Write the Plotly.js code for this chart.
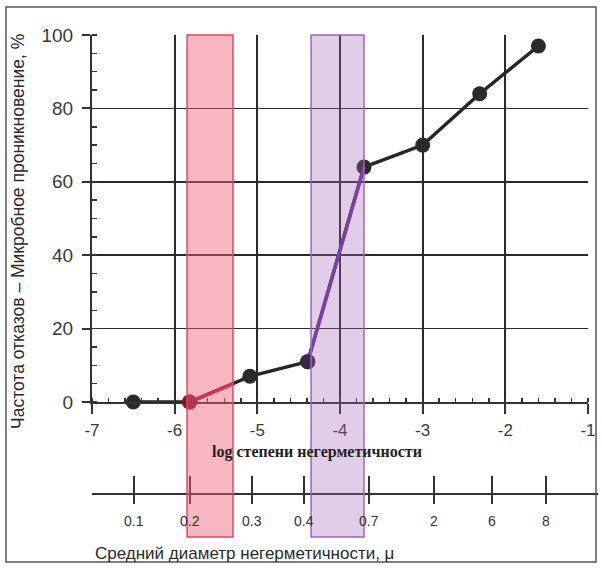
<!DOCTYPE html>
<html>
<head>
<meta charset="utf-8">
<script src="https://cdn.plot.ly/plotly-3.0.1.min.js"></script>
<style>html,body{margin:0;padding:0;background:#fff;}#chart{width:602px;height:568px;}</style>
</head>
<body>
<div id="chart"></div>
<script>
// ---- data ----
var logLeak = [-6.5, -5.82, -5.09, -4.39, -3.71, -3.0, -2.31, -1.6];
var failRate = [0, 0, 7, 11, 64, 70, 84, 97];
var xTickVals = [-7, -6, -5, -4, -3, -2, -1];
var xTickText = ['-7', '-6', '-5', '-4', '-3', '-2', '-1'];
var yTickVals = [0, 20, 40, 60, 80, 100];
var diamTickPos = [-6.49, -5.82, -5.06, -4.43, -3.65, -2.86, -2.16, -1.51];
var diamLabels = ['0.1', '0.2', '0.3', '0.4', '0.7', '2', '6', '8'];
var redBand = [-5.85, -5.295];
var purpleBand = [-4.35, -3.71];
var yTitle = 'Частота отказов – Микробное проникновение, %';
var xTitle = 'log степени негерметичности';
var x2Title = 'Средний диаметр негерметичности, μ';

// red segment: from point 2 to the right edge of red band (interpolated on the data line)
var t = (redBand[1] - logLeak[1]) / (logLeak[2] - logLeak[1]);
var redSegX = [logLeak[1], redBand[1]];
var redSegY = [failRate[1], failRate[1] + t * (failRate[2] - failRate[1])];

var font = 'Liberation Sans, Arial, sans-serif';
var traces = [
  {x: logLeak, y: failRate, mode: 'lines+markers', xaxis: 'x', yaxis: 'y',
   line: {color: '#262626', width: 3.5}, marker: {size: 15, color: '#2a2a2a'}, cliponaxis: false, hoverinfo: 'skip'},
  {x: redSegX, y: redSegY, mode: 'lines', line: {color: '#b3142b', width: 3.5}, cliponaxis: false, hoverinfo: 'skip'},
  {x: logLeak.slice(3, 5), y: failRate.slice(3, 5), mode: 'lines', line: {color: '#6a2fa0', width: 3.5}, cliponaxis: false, hoverinfo: 'skip'},
  {x: [logLeak[1]], y: [failRate[1]], mode: 'markers', marker: {size: 15, color: '#9a0f20'}, cliponaxis: false, hoverinfo: 'skip'},
  {x: [logLeak[3]], y: [failRate[3]], mode: 'markers', marker: {size: 15, color: '#3a2848'}, cliponaxis: false, hoverinfo: 'skip'},
  {x: diamTickPos, y: diamTickPos.map(function(){return null;}), xaxis: 'x2', yaxis: 'y', mode: 'markers', hoverinfo: 'skip', showlegend: false}
];

var annotations = [
  {text: '<b>' + xTitle + '</b>', xref: 'paper', yref: 'paper', x: (317 - 92) / 496, y: (537 - 452) / 502,
   showarrow: false, xanchor: 'center', yanchor: 'middle', font: {family: 'Liberation Serif, Times New Roman, serif', size: 16, color: '#222'}},
  {text: x2Title, xref: 'paper', yref: 'paper', x: (93 - 92) / 496, y: (537 - 553) / 502,
   showarrow: false, xanchor: 'left', yanchor: 'middle', font: {family: font, size: 17, color: '#2a2a2a'}},
  {text: yTitle, xref: 'paper', yref: 'paper', x: (18 - 92) / 496, y: (537 - 232) / 502, textangle: -90,
   showarrow: false, xanchor: 'center', yanchor: 'middle', font: {family: font, size: 17.5, color: '#2a2a2a'}}
];
diamLabels.forEach(function (lab, i) {
  annotations.push({text: lab, xref: 'x', yref: 'paper', x: diamTickPos[i], y: (537 - 521) / 502,
    showarrow: false, xanchor: 'center', yanchor: 'middle', font: {family: font, size: 14, color: '#333'}});
});

var layout = {
  width: 602, height: 568,
  margin: {l: 92, r: 14, t: 35, b: 31},
  paper_bgcolor: '#fff', plot_bgcolor: '#fff',
  showlegend: false,
  xaxis: {
    range: [-7, -1], anchor: 'y', tickmode: 'array', tickvals: xTickVals, ticktext: xTickText,
    ticks: 'outside', ticklen: 10, tickwidth: 2, tickcolor: '#333',
    showgrid: true, gridcolor: '#2a2a2a', gridwidth: 1.7,
    showline: true, linecolor: '#333', linewidth: 2, zeroline: false,
    minor: {dtick: 0.2, tick0: -7, ticks: 'inside', ticklen: 4, tickwidth: 1.5, tickcolor: '#333', showgrid: false},
    tickfont: {family: font, size: 17, color: '#3a3a3a'}, ticklabelstandoff: 2
  },
  xaxis2: {
    range: [-7, -1], overlaying: 'x', anchor: 'free', position: (537 - 504) / 502, side: 'bottom',
    tickmode: 'array', tickvals: diamTickPos, showticklabels: false,
    ticks: 'inside', ticklen: 28, tickwidth: 2, tickcolor: '#333',
    showgrid: false, showline: false, zeroline: false
  },
  yaxis: {
    domain: [(537 - 402) / 502, 1], range: [0, 100], tickmode: 'array', tickvals: yTickVals,
    ticks: 'outside', ticklen: 8, tickwidth: 2, tickcolor: '#333',
    showgrid: true, gridcolor: '#2a2a2a', gridwidth: 1.7,
    showline: true, linecolor: '#333', linewidth: 2, zeroline: false,
    minor: {dtick: 5, tick0: 0, ticks: 'inside', ticklen: 5, tickwidth: 1.5, tickcolor: '#333', showgrid: false},
    tickfont: {family: font, size: 19, color: '#3a3a3a'}, ticklabelstandoff: 5
  },
  shapes: [
    {type: 'rect', xref: 'x', yref: 'paper', x0: redBand[0], x1: redBand[1], y0: 0, y1: 1, layer: 'above',
     fillcolor: 'rgba(238,95,118,0.45)', line: {color: '#e4475c', width: 1.5}},
    {type: 'rect', xref: 'x', yref: 'paper', x0: purpleBand[0], x1: purpleBand[1], y0: 0, y1: 1, layer: 'above',
     fillcolor: 'rgba(165,100,180,0.32)', line: {color: '#9a66c4', width: 1.5}},
    {type: 'line', xref: 'paper', yref: 'paper', x0: 0, x1: (598 - 92) / 496, y0: (537 - 494) / 502, y1: (537 - 494) / 502,
     line: {color: '#333', width: 2}, layer: 'below'},
    {type: 'rect', xref: 'paper', yref: 'paper', x0: (6 - 92) / 496, x1: (596 - 92) / 496, y0: (537 - 562) / 502, y1: (537 - 7) / 502,
     line: {color: '#555', width: 1.5}, fillcolor: 'rgba(0,0,0,0)', layer: 'below'}
  ],
  annotations: annotations
};

Plotly.newPlot('chart', traces, layout, {staticPlot: true, displayModeBar: false});
</script>
</body>
</html>
